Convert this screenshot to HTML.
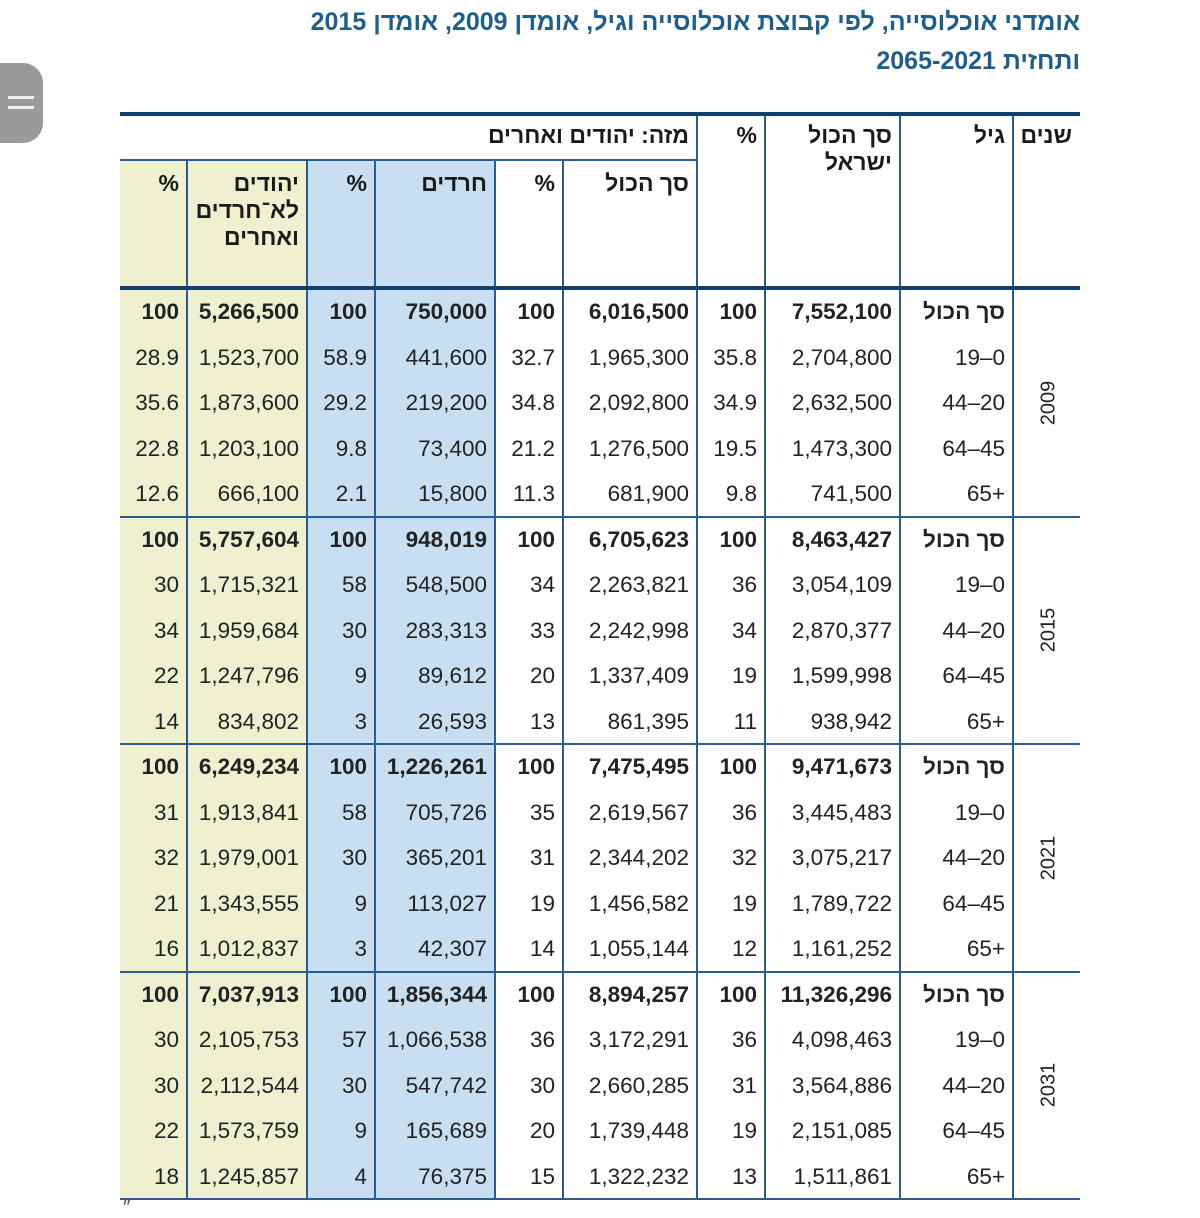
<!DOCTYPE html>
<html lang="he"><head><meta charset="utf-8">
<style>
body{margin:0;width:1200px;height:1214px;background:#fff;position:relative;overflow:hidden;font-family:"Liberation Sans","Noto Sans CJK SC",sans-serif;color:#222}
.t{position:absolute;right:120px;font-weight:bold;font-size:25px;color:#1e5e8c;direction:rtl;white-space:nowrap}
.a{position:absolute;box-sizing:border-box}
.c{position:absolute;box-sizing:border-box;text-align:right;padding-right:8px;font-size:22.5px;white-space:nowrap;direction:ltr}
.h{position:absolute;box-sizing:border-box;text-align:right;padding-right:8px;font-size:23px;font-weight:bold;direction:rtl;line-height:27px;color:#1a1a1a}
</style></head><body>
<div class="t" style="top:8px">אומדני אוכלוסייה, לפי קבוצת אוכלוסייה וגיל, אומדן 2009, אומדן 2015</div>
<div class="t" style="top:47px">ותחזית <span dir="ltr">2065-2021</span></div>
<div class="a" style="left:0;top:63px;width:43px;height:80px;background:#9a9a9a;border-radius:0 20px 20px 0">
<div class="a" style="left:8px;top:33px;width:26px;height:3px;background:#eee"></div>
<div class="a" style="left:8px;top:43px;width:26px;height:3px;background:#eee"></div></div>
<div id="tbl"></div>
<div class="a" style="left:122px;top:1200px;font-size:16px;color:#1e5e8c">״</div>
<script>
const years=['2009','2015','2021','2031'];
const ages=['סך הכול','19–0','44–20','64–45','65+'];
const rows=[
['7,552,100','100','6,016,500','100','750,000','100','5,266,500','100'],
['2,704,800','35.8','1,965,300','32.7','441,600','58.9','1,523,700','28.9'],
['2,632,500','34.9','2,092,800','34.8','219,200','29.2','1,873,600','35.6'],
['1,473,300','19.5','1,276,500','21.2','73,400','9.8','1,203,100','22.8'],
['741,500','9.8','681,900','11.3','15,800','2.1','666,100','12.6'],
['8,463,427','100','6,705,623','100','948,019','100','5,757,604','100'],
['3,054,109','36','2,263,821','34','548,500','58','1,715,321','30'],
['2,870,377','34','2,242,998','33','283,313','30','1,959,684','34'],
['1,599,998','19','1,337,409','20','89,612','9','1,247,796','22'],
['938,942','11','861,395','13','26,593','3','834,802','14'],
['9,471,673','100','7,475,495','100','1,226,261','100','6,249,234','100'],
['3,445,483','36','2,619,567','35','705,726','58','1,913,841','31'],
['3,075,217','32','2,344,202','31','365,201','30','1,979,001','32'],
['1,789,722','19','1,456,582','19','113,027','9','1,343,555','21'],
['1,161,252','12','1,055,144','14','42,307','3','1,012,837','16'],
['11,326,296','100','8,894,257','100','1,856,344','100','7,037,913','100'],
['4,098,463','36','3,172,291','36','1,066,538','57','2,105,753','30'],
['3,564,886','31','2,660,285','30','547,742','30','2,112,544','30'],
['2,151,085','19','1,739,448','20','165,689','9','1,573,759','22'],
['1,511,861','13','1,322,232','15','76,375','4','1,245,857','18']];
const X=[1080,1013,900,765,697,563,495,375,307,187,120];
const T=document.getElementById('tbl');
const L='#2a5d8f',DK='#123f6e';
function box(x,y,w,h,bg,name){const d=document.createElement('div');d.className='a';d.style.cssText=`left:${x}px;top:${y}px;width:${w}px;height:${h}px;background:${bg}`;


T.appendChild(d);return d;}
function txt(cls,x1,x2,y,h,s,bold,name){const d=document.createElement('div');d.className=cls;d.style.cssText=`left:${x1}px;width:${x2-x1}px;top:${y}px;height:${h}px;line-height:${cls=='c'?h+'px':'27px'};font-weight:${bold?'bold':'normal'}`;d.textContent=s;


T.appendChild(d);}
const top0=116,hdr1=160,bodyTop=289,rh=45.5;
const bodyBot=bodyTop+rows.length*rh;
box(120,160,187,bodyBot-160,'#eef0cf','non-haredi-bg');
box(307,160,188,bodyBot-160,'#c8dff2','haredi-bg');
X.slice(1,10).forEach((x,i)=>{const y=(x<697&&x>120&&i>=4)?hdr1:top0;box(x-1,y,2,bodyBot-y,L,'col-line');});
box(120,hdr1-1,577,2,L,'subheader-line');
box(120,112,960,4,DK,'top-rule');
box(120,286,960,4,DK,'header-rule');
for(let g=1;g<=4;g++)box(120,bodyTop+g*5*rh-1,960,2,L,'group-line');
txt('h',1013,1080,122,30,'שנים',1,'years-header');
txt('h',900,1013,122,30,'גיל',1,'age-header');
txt('h',765,900,122,60,'סך הכול ישראל',1,'israel-total-header');
txt('h',697,765,122,30,'%',1,'pct-header');
txt('h',120,697,122,30,'מזה: יהודים ואחרים',1,'of-which-header');
txt('h',563,697,170,30,'סך הכול',1,'jewish-total-header');
txt('h',495,563,170,30,'%',1,'pct-header');
txt('h',375,495,170,30,'חרדים',1,'haredi-header');
txt('h',307,375,170,30,'%',1,'pct-header');
txt('h',187,307,170,90,'יהודים לא־חרדים ואחרים',1,'non-haredi-header');
txt('h',120,187,170,30,'%',1,'pct-header');
rows.forEach((r,i)=>{const y=bodyTop+i*rh;const b=i%5==0;
 txt('c',900,1013,y,rh,ages[i%5],b,'age-cell');
 r.forEach((v,j)=>txt('c',X[j+3],X[j+2],y,rh,v,b,'value-cell'));});
years.forEach((yr,g)=>{const d=document.createElement('div');d.className='a';
d.style.cssText=`left:1049px;top:${bodyTop+(g*5+2.5)*rh}px;font-size:20px;transform:translate(-50%,-50%) rotate(-90deg);white-space:nowrap`;
d.textContent=yr;


T.appendChild(d);});
</script>
</body></html>
